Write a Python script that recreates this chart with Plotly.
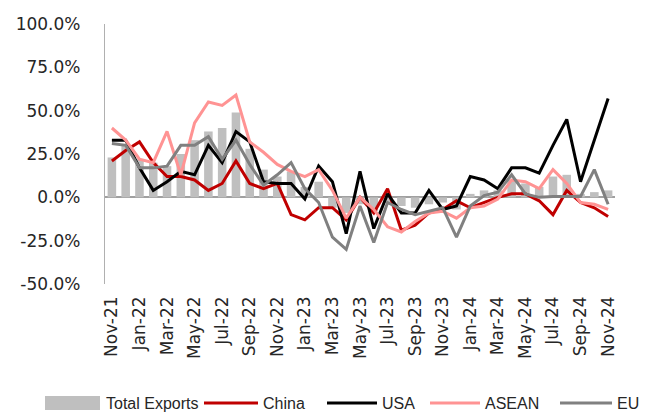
import plotly.graph_objects as go

months = ["Nov-21", "Dec-21", "Jan-22", "Feb-22", "Mar-22", "Apr-22", "May-22", "Jun-22",
          "Jul-22", "Aug-22", "Sep-22", "Oct-22", "Nov-22", "Dec-22", "Jan-23", "Feb-23",
          "Mar-23", "Apr-23", "May-23", "Jun-23", "Jul-23", "Aug-23", "Sep-23", "Oct-23",
          "Nov-23", "Dec-23", "Jan-24", "Feb-24", "Mar-24", "Apr-24", "May-24", "Jun-24",
          "Jul-24", "Aug-24", "Sep-24", "Oct-24", "Nov-24"]

total_exports = [23, 30, 22, 20, 18, 25, 33, 38, 40, 49, 28, 16, 12, 15, 6, 9, -6, -9, -4, -8,
                 -3, -5, -6, -4, -3, -7, 2, 4, 4, 10, 8, 6, 12, 13, 2, 3, 4]
china = [21, 27, 32, 20, 12, 12, 10, 4, 8, 21, 8, 5, 8, -10, -13, -6, -6, -13, 0, -9,
         5, -19, -16, -9, -7, -2, -6, -3, 0, 2, 2, -2, -10, 4, -3, -6, -11]
usa = [33, 33, 17, 4, 9, 15, 13, 30, 20, 38, 32, 9, 8, 8, -1, 18, 9, -21, 15, -18,
       2, -9, -9, 4, -7, -5, 12, 10, 5, 17, 17, 14, 30, 45, 9, 33, 57]
asean = [40, 33, 22, 20, 38, 13, 43, 55, 53, 59, 32, 26, 19, 15, 12, 16, 4, -12, 0, -7,
         -17, -20, -14, -9, -8, -12, -6, -5, -1, 10, 9, 5, 16, 8, -3, -4, -7]
eu = [31, 30, 17, 17, 18, 30, 30, 35, 22, 33, 19, 7, 13, 20, 5, -3, -23, -30, -5, -26,
      -3, -7, -10, -8, -6, -23, -5, 1, 3, 13, 2, 0, 0.5, 0.5, 0.5, 16, -4]

y_ticks = [-50, -25, 0, 25, 50, 75, 100]
y_tick_text = ["-50.0%", "-25.0%", "0.0%", "25.0%", "50.0%", "75.0%", "100.0%"]

FONT = "DejaVu Sans"
LEG_FONT = "Liberation Sans"
TXT = "#262626"

fig = go.Figure()
fig.add_trace(go.Bar(x=months, y=total_exports, name="Total Exports",
                     marker=dict(color="#BFBFBF", line=dict(width=0))))
line_series = [("China", china, "#C00000"), ("USA", usa, "#000000"),
               ("ASEAN", asean, "#FF9393"), ("EU", eu, "#808080")]
for name, vals, col in line_series:
    fig.add_trace(go.Scatter(x=months, y=vals, name=name, mode="lines",
                             line=dict(color=col, width=3)))

# manual legend (pixel layout converted to paper coordinates)
L, R, T, B = 105, 615, 24, 284
def px(x):
    return (x - L) / (R - L)
def py(y):
    return (B - y) / (B - T)

legend_y = 403
shapes = [dict(type="rect", xref="paper", yref="paper", x0=px(45), x1=px(100),
               y0=py(410), y1=py(396), fillcolor="#BFBFBF", line=dict(width=0))]
annotations = [dict(text="Total Exports", x=px(104), y=py(legend_y), xref="paper", yref="paper",
                    xanchor="left", yanchor="middle", showarrow=False,
                    font=dict(family=LEG_FONT, size=16, color=TXT))]
leg_pos = [(204, 258, 261), (327, 377, 380), (430, 480, 483), (560, 612, 615)]
for (name, vals, col), (a, b, t) in zip(line_series, leg_pos):
    shapes.append(dict(type="line", xref="paper", yref="paper", x0=px(a), x1=px(b),
                       y0=py(legend_y), y1=py(legend_y), line=dict(color=col, width=3)))
    annotations.append(dict(text=name, x=px(t), y=py(legend_y), xref="paper", yref="paper",
                            xanchor="left", yanchor="middle", showarrow=False,
                            font=dict(family=LEG_FONT, size=16, color=TXT)))

fig.update_layout(
    width=651, height=414,
    margin=dict(l=L, r=651 - R, t=T, b=414 - B),
    paper_bgcolor="white", plot_bgcolor="white",
    showlegend=False, bargap=0.38,
    font=dict(family=FONT, size=17, color=TXT),
    shapes=shapes, annotations=annotations,
    xaxis=dict(type="category", range=[-0.5, len(months) - 0.5],
               tickmode="array", tickvals=months[::2], ticktext=months[::2],
               tickangle=-90, showgrid=False, showline=False, ticks="",
               ticklabelstandoff=8, tickfont=dict(family=FONT, size=17, color=TXT)),
    yaxis=dict(range=[-50, 100], tickmode="array", tickvals=y_ticks, ticktext=y_tick_text,
               showgrid=False, zeroline=True, zerolinecolor="#A0A0A0", zerolinewidth=1.5,
               showline=True, linecolor="#B0B0B0", linewidth=1.2, ticks="",
               ticklabelstandoff=20, tickfont=dict(family=FONT, size=17, color=TXT)),
)

fig.write_html("out.html")
